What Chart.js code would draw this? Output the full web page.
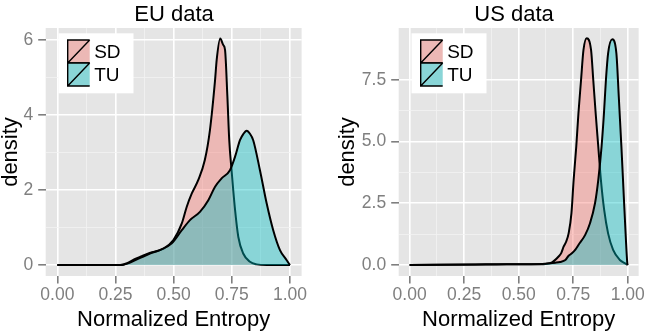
<!DOCTYPE html>
<html>
<head>
<meta charset="utf-8">
<script src="https://cdn.jsdelivr.net/npm/chart.js@4.4.1/dist/chart.umd.min.js"></script>
<style>
  html, body { margin: 0; padding: 0; background: #fff; }
  #wrap { position: relative; width: 646px; height: 331px; }
  .panel { position: absolute; top: 0; width: 323px; height: 331px; }
</style>
</head>
<body>
<div id="wrap">
  <div class="panel" style="left:0"><canvas id="eu" width="323" height="331"></canvas></div>
  <div class="panel" style="left:323px"><canvas id="us" width="323" height="331"></canvas></div>
</div>
<script>
// ── Données (densités estimées) ─────────────────────────────────────────────
const SERIES = ['SD', 'TU'];

const X_TICKS  = [0, 0.25, 0.5, 0.75, 1];
const X_LABELS = ['0.00', '0.25', '0.50', '0.75', '1.00'];

// EU
const EU_TICKS  = [0, 2, 4, 6];
const EU_LABELS = ['0', '2', '4', '6'];
const EU_SD_X = [0, 0.25, 0.27, 0.30, 0.33, 0.36, 0.40, 0.456, 0.499, 0.535, 0.556, 0.578, 0.606, 0.634, 0.656, 0.678, 0.685, 0.700, 0.713, 0.721, 0.731, 0.739, 0.749, 0.764, 0.778, 0.799, 0.828, 0.857, 0.90, 1.0];
const EU_SD_Y = [0, 0, 0, 0.05, 0.15, 0.23, 0.33, 0.44, 0.67, 1.11, 1.55, 1.91, 2.27, 2.80, 3.60, 4.93, 5.47, 6.04, 5.87, 5.73, 4.49, 3.33, 2.53, 1.47, 0.75, 0.31, 0.09, 0.02, 0, 0];
const EU_TU_X = [0, 0.27, 0.31, 0.34, 0.37, 0.398, 0.441, 0.492, 0.535, 0.570, 0.613, 0.649, 0.678, 0.706, 0.742, 0.764, 0.785, 0.800, 0.814, 0.828, 0.842, 0.871, 0.900, 0.928, 0.957, 0.986, 1.0];
const EU_TU_Y = [0, 0, 0.06, 0.15, 0.23, 0.31, 0.40, 0.58, 0.93, 1.20, 1.42, 1.73, 2.09, 2.31, 2.53, 2.89, 3.33, 3.50, 3.58, 3.50, 3.33, 2.53, 1.64, 0.93, 0.40, 0.13, 0];

// US
const US_TICKS  = [0, 2.5, 5, 7.5];
const US_LABELS = ['0.0', '2.5', '5.0', '7.5'];
const US_SD_X = [0, 0.30, 0.45, 0.60, 0.623, 0.653, 0.683, 0.695, 0.706, 0.718, 0.729, 0.742, 0.752, 0.764, 0.774, 0.786, 0.797, 0.812, 0.832, 0.842, 0.853, 0.865, 0.877, 0.892, 0.910, 0.933, 0.964, 0.986, 1.0];
const US_SD_Y = [0, 0.02, 0.03, 0.03, 0.04, 0.10, 0.34, 0.48, 0.74, 0.95, 1.28, 2.10, 3.45, 4.80, 6.15, 7.50, 8.71, 9.19, 8.71, 7.50, 6.15, 4.80, 3.45, 2.23, 1.28, 0.61, 0.20, 0.07, 0];
const US_TU_X = [0, 0.40, 0.55, 0.62, 0.668, 0.690, 0.714, 0.728, 0.744, 0.760, 0.774, 0.805, 0.827, 0.850, 0.865, 0.880, 0.891, 0.900, 0.910, 0.929, 0.948, 0.959, 0.971, 0.982, 0.991, 0.998, 1.0];
const US_TU_Y = [0, 0.02, 0.03, 0.05, 0.09, 0.12, 0.20, 0.36, 0.47, 0.62, 0.81, 1.22, 1.69, 2.50, 3.45, 4.80, 6.15, 7.50, 8.58, 9.15, 8.58, 6.82, 4.80, 2.77, 1.15, 0.07, 0];

// ── Style ─────────────────────────────────────────────────────────────────────
const FONT      = '"Liberation Sans", Arial, Helvetica, sans-serif';
const PANEL_BG  = '#e5e5e5';
const TICK_GREY = '#7f7f7f';
const FILLS     = ['rgba(248, 118, 109, 0.4)', 'rgba(0, 191, 196, 0.4)'];

function toPoints(xs, ys) {
  return xs.map((x, i) => ({ x, y: ys[i] }));
}

// majeurs + mineurs (milieux) pour imiter la grille ggplot
function withMinor(major) {
  const out = [];
  major.forEach((v, i) => {
    out.push(v);
    if (i < major.length - 1) out.push((v + major[i + 1]) / 2);
  });
  return out;
}

function isMajor(major, v) {
  return major.some((m) => Math.abs(m - v) < 1e-9);
}

function labelFor(major, labels, v) {
  const i = major.findIndex((m) => Math.abs(m - v) < 1e-9);
  return i >= 0 ? labels[i] : '';
}

function gridOpts(major) {
  return {
    color: (c) => (c.tick && isMajor(major, c.tick.value) ? '#ffffff' : '#f2f2f2'),
    lineWidth: (c) => (c.tick && isMajor(major, c.tick.value) ? 1.6 : 0.8),
    tickColor: (c) => (c.tick && isMajor(major, c.tick.value) ? TICK_GREY : 'rgba(0,0,0,0)'),
    tickLength: 7.5,
    drawTicks: true,
  };
}

// Fond gris, titre et légende façon ggplot
const panelDecor = {
  id: 'panelDecor',
  beforeDraw(chart) {
    const { ctx, chartArea: a } = chart;
    ctx.save();
    ctx.fillStyle = PANEL_BG;
    ctx.fillRect(a.left, a.top, a.right - a.left, a.bottom - a.top);
    ctx.restore();
  },
  afterDraw(chart, args, opts) {
    const { ctx, chartArea: a } = chart;
    ctx.save();
    // titre
    ctx.fillStyle = '#000';
    ctx.font = '22px ' + FONT;
    ctx.textAlign = 'center';
    ctx.textBaseline = 'alphabetic';
    ctx.fillText(opts.title, opts.titleX, 21);

    // légende
    const bx = a.left + 12.8, by = 33.3, bw = 75, bh = 60;
    ctx.fillStyle = '#fff';
    ctx.fillRect(bx, by, bw, bh);
    const kx = a.left + 22, kw = 22, kh = 23;
    SERIES.forEach((name, i) => {
      const ky = 40 + i * kh;
      ctx.fillStyle = PANEL_BG;
      ctx.fillRect(kx, ky, kw, kh);
      ctx.fillStyle = FILLS[i];
      ctx.fillRect(kx, ky, kw, kh);
      ctx.strokeStyle = '#000';
      ctx.lineWidth = 1.4;
      ctx.beginPath();
      ctx.moveTo(kx + kw, ky);
      ctx.lineTo(kx, ky);
      ctx.lineTo(kx, ky + kh);
      ctx.lineTo(kx + kw, ky + kh);
      ctx.moveTo(kx, ky + kh);
      ctx.lineTo(kx + kw, ky);
      ctx.stroke();
      ctx.fillStyle = '#000';
      ctx.font = '19px ' + FONT;
      ctx.textAlign = 'left';
      ctx.textBaseline = 'middle';
      ctx.fillText(name, a.left + 48.5, ky + kh / 2 + 1);
    });
    ctx.restore();
  },
};

function makePanel(id, p) {
  const ctx = document.getElementById(id).getContext('2d');
  const series = [[p.sdX, p.sdY], [p.tuX, p.tuY]];
  return new Chart(ctx, {
    type: 'line',
    data: {
      datasets: series.map(([xs, ys], i) => ({
        label: SERIES[i],
        data: toPoints(xs, ys),
        borderColor: '#000',
        borderWidth: 2,
        backgroundColor: FILLS[i],
        fill: 'origin',
        pointRadius: 0,
        cubicInterpolationMode: 'monotone',
        order: 2 - i, // TU dessiné au-dessus de SD
      })),
    },
    plugins: [panelDecor],
    options: {
      responsive: false,
      animation: false,
      parsing: false,
      layout: { padding: { top: 28, bottom: 0, left: p.padLeft, right: p.padRight } },
      plugins: {
        legend: { display: false },
        tooltip: { enabled: false },
        panelDecor: { title: p.title, titleX: p.titleX },
      },
      scales: {
        x: {
          type: 'linear',
          min: -0.05,
          max: 1.05,
          afterBuildTicks: (s) => { s.ticks = withMinor(X_TICKS).map((v) => ({ value: v })); },
          afterFit: (s) => { s.height = 55; },
          ticks: {
            autoSkip: false,
            maxRotation: 0,
            padding: 1,
            color: TICK_GREY,
            font: { family: FONT, size: 17.5 },
            callback: (v) => labelFor(X_TICKS, X_LABELS, v),
          },
          grid: gridOpts(X_TICKS),
          border: { display: false },
          title: {
            display: true,
            text: 'Normalized Entropy',
            color: '#000',
            font: { family: FONT, size: 22, lineHeight: 1 },
            padding: 0,
          },
        },
        y: {
          type: 'linear',
          min: p.yMin,
          max: p.yMax,
          afterBuildTicks: (s) => { s.ticks = withMinor(p.yTicks).map((v) => ({ value: v })); },
          afterFit: (s) => { s.width = p.yWidth; },
          ticks: {
            autoSkip: false,
            padding: 5,
            color: TICK_GREY,
            font: { family: FONT, size: 17.5 },
            callback: (v) => labelFor(p.yTicks, p.yLabels, v),
          },
          grid: gridOpts(p.yTicks),
          border: { display: false },
          title: {
            display: true,
            text: 'density',
            color: '#000',
            font: { family: FONT, size: 22, lineHeight: 1 },
            padding: 0,
          },
        },
      },
    },
  });
}

makePanel('eu', {
  title: 'EU data', titleX: 174,
  sdX: EU_SD_X, sdY: EU_SD_Y, tuX: EU_TU_X, tuY: EU_TU_Y,
  yTicks: EU_TICKS, yLabels: EU_LABELS, yMin: -0.29, yMax: 6.32,
  padLeft: 0, yWidth: 45.7, padRight: 21.4,
});

makePanel('us', {
  title: 'US data', titleX: 191,
  sdX: US_SD_X, sdY: US_SD_Y, tuX: US_TU_X, tuY: US_TU_Y,
  yTicks: US_TICKS, yLabels: US_LABELS, yMin: -0.45, yMax: 9.61,
  padLeft: 14, yWidth: 61.7, padRight: 5.3,
});
</script>
</body>
</html>
